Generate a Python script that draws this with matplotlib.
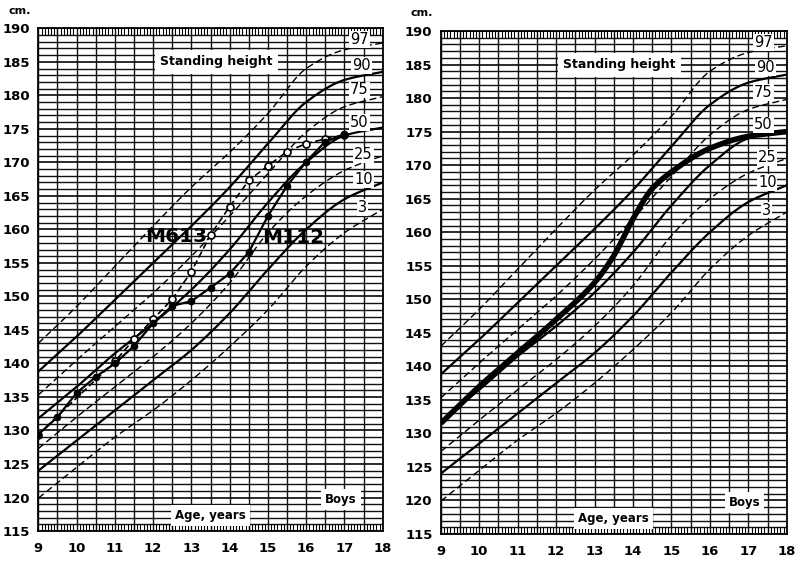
import numpy as np
import matplotlib
matplotlib.use("Agg")
import matplotlib.pyplot as plt
from matplotlib.ticker import MultipleLocator

# ---------------- data ----------------
ages = [9, 10, 11, 12, 13, 14, 15, 16, 17, 18]
p97 = [143.0, 148.5, 154.5, 160.5, 166.3, 171.5, 177.3, 184.0, 186.8, 187.8]
p90 = [138.8, 144.0, 149.5, 155.0, 160.5, 166.3, 172.8, 179.0, 182.3, 183.5]
p75 = [135.3, 140.5, 145.5, 150.5, 156.0, 162.0, 168.3, 174.5, 178.3, 179.8]
p50 = [131.8, 136.5, 141.5, 146.0, 151.0, 157.0, 164.0, 170.0, 174.0, 175.2]
p25 = [127.3, 132.0, 136.5, 141.0, 146.0, 152.0, 159.5, 165.0, 168.8, 171.0]
p10 = [124.0, 128.5, 133.0, 137.5, 142.0, 147.5, 154.0, 160.0, 164.5, 167.0]
p3 = [119.9, 124.5, 129.0, 133.0, 137.5, 142.5, 148.0, 154.5, 159.5, 163.0]
pct_labels = ["97", "90", "75", "50", "25", "10", "3"]

m613_age = [9.0, 11.0, 11.5, 12.0, 12.5, 13.0, 13.5, 14.0, 14.5, 15.0, 15.5, 16.0, 16.5, 17.0]
m613_ht = [129.4, 140.3, 143.6, 146.6, 149.6, 153.7, 159.2, 163.4, 167.3, 169.5, 171.6, 172.8, 173.5, 174.1]
m112_age = [9.0, 9.5, 10.0, 10.5, 11.0, 11.5, 12.0, 12.5, 13.0, 13.5, 14.0, 14.5, 15.0, 15.5, 16.0, 16.5, 17.0]
m112_ht = [129.4, 132.0, 135.6, 138.0, 140.0, 142.6, 146.0, 148.6, 149.3, 151.3, 153.4, 156.6, 162.0, 166.5, 170.1, 173.1, 174.2]

avg_age = [9, 10, 11, 12, 13, 13.5, 14, 14.5, 15, 16, 17, 18]
avg_ht = [131.5, 137.0, 142.0, 147.0, 152.5, 156.5, 162.0, 166.5, 169.0, 172.5, 174.3, 175.0]

x_ticks = list(range(9, 19))
y_ticks = list(range(115, 191, 5))


def pchip(x, y, xn):
    x = np.asarray(x, float); y = np.asarray(y, float)
    h = np.diff(x); d = np.diff(y) / h
    m = np.zeros_like(y)
    for k in range(1, len(x) - 1):
        if d[k - 1] * d[k] > 0:
            w1 = 2 * h[k] + h[k - 1]; w2 = h[k] + 2 * h[k - 1]
            m[k] = (w1 + w2) / (w1 / d[k - 1] + w2 / d[k])
    m[0] = d[0]; m[-1] = d[-1]
    idx = np.clip(np.searchsorted(x, xn) - 1, 0, len(x) - 2)
    t = (xn - x[idx]) / h[idx]
    h00 = 2 * t**3 - 3 * t**2 + 1; h10 = t**3 - 2 * t**2 + t
    h01 = -2 * t**3 + 3 * t**2; h11 = t**3 - t**2
    return h00 * y[idx] + h10 * h[idx] * m[idx] + h01 * y[idx + 1] + h11 * h[idx] * m[idx + 1]


fig = plt.figure(figsize=(8, 5.63), dpi=100)
ax1 = fig.add_axes([0.0479, 0.0568, 0.4305, 0.8929])
ax2 = fig.add_axes([0.551, 0.0515, 0.4325, 0.8934])

curves = [p97, p90, p75, p50, p25, p10, p3]
styles = ["dash", "solid", "dash", "solid", "dash", "solid", "dash"]
label_y = [188.3, 184.5, 180.8, 176.0, 171.1, 167.4, 163.3]
label_x = [17.15, 17.2, 17.15, 17.15, 17.25, 17.25, 17.35]

xs = np.linspace(9, 18, 300)
for ax in (ax1, ax2):
    ax.set_xlim(9, 18)
    ax.set_ylim(115, 190)
    for yv in range(115, 191):
        ax.axhline(yv, color="#111111", lw=1.0 if yv % 5 else 1.25, zorder=1)
    for xv in np.arange(9, 18.01, 0.5):
        ax.axvline(xv, color="#111111", lw=1.0, zorder=1)
    for c, s in zip(curves, styles):
        yy = pchip(ages, c, xs)
        if s == "dash":
            ax.plot(xs, yy, color="black", lw=1.0, dashes=(5, 2.5), zorder=3)
        else:
            ax.plot(xs, yy, color="black", lw=1.6, zorder=3)
    for lab, lx, ly in zip(pct_labels, label_x, label_y):
        ax.text(lx, ly, lab, fontsize=10.5, ha="left", va="center", zorder=6,
                bbox=dict(facecolor="white", edgecolor="none", pad=0.6))
    ax.text(13.65, 185.0, "Standing height", fontsize=9, fontweight="bold", ha="center",
            va="center", zorder=6, bbox=dict(facecolor="white", edgecolor="none", pad=4))
    ax.text(13.5, 117.3, "Age, years", fontsize=8.5, fontweight="bold", ha="center",
            va="center", zorder=6, bbox=dict(facecolor="white", edgecolor="none", pad=3))
    ax.text(16.9, 119.7, "Boys", fontsize=8.5, fontweight="bold", ha="center",
            va="center", zorder=6, bbox=dict(facecolor="white", edgecolor="none", pad=3))
    ax.set_xticks(x_ticks)
    ax.set_yticks(y_ticks)
    ax.set_xticklabels([str(v) for v in x_ticks], fontsize=9.5, fontweight="bold")
    ax.set_yticklabels([str(v) for v in y_ticks], fontsize=9.5, fontweight="bold")
    ax.xaxis.set_minor_locator(MultipleLocator(1 / 12))
    ax.tick_params(axis="x", which="both", direction="in", top=True, bottom=True,
                   length=0, pad=8)
    ax.tick_params(axis="x", which="minor", length=5, width=0.8)
    ax.tick_params(axis="y", which="both", length=0, pad=6)
    for sp in ax.spines.values():
        sp.set_linewidth(1.3)
    ax.text(-0.055, 1.035, "cm.", transform=ax.transAxes, fontsize=8, fontweight="bold",
            ha="center", va="center")

ax1.plot(m613_age, m613_ht, color="black", lw=1.2, dashes=(4, 2), marker="o",
         mfc="white", mec="black", ms=5, mew=1.2, zorder=4)
ax1.plot(m112_age, m112_ht, color="black", lw=1.6, marker="o", mfc="black",
         mec="black", ms=4.5, zorder=5)
ax1.text(12.6, 159.0, "M613", fontsize=14.5, fontweight="bold", ha="center", va="center",
         zorder=6)
ax1.text(15.65, 158.8, "M112", fontsize=14.5, fontweight="bold", ha="center", va="center",
         zorder=6)

ys = np.linspace(9, 18, 300)
ax2.plot(ys, pchip(avg_age, avg_ht, ys), color="black", lw=4, zorder=5,
         solid_capstyle="butt")

fig.savefig("out.png", dpi=100)
